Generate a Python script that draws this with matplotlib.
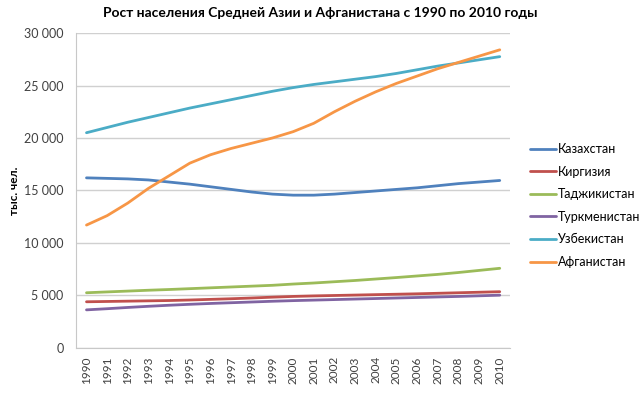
import matplotlib
matplotlib.use("Agg")
import matplotlib.pyplot as plt
from matplotlib.ticker import FuncFormatter

plt.rcParams['font.family'] = ['Lato', 'DejaVu Sans']

years = list(range(1990, 2011))
kazakhstan = [16200, 16150, 16100, 16000, 15800, 15600, 15350, 15100, 14850, 14650, 14550,
              14550, 14650, 14800, 14950, 15100, 15250, 15450, 15650, 15800, 15950]
kyrgyzstan = [4390, 4420, 4450, 4480, 4510, 4560, 4620, 4680, 4750, 4830, 4900,
              4950, 4990, 5030, 5070, 5110, 5150, 5200, 5250, 5300, 5350]
tajikistan = [5250, 5330, 5410, 5490, 5560, 5640, 5720, 5800, 5880, 5960, 6080,
              6180, 6300, 6420, 6560, 6700, 6850, 7000, 7180, 7380, 7580]
turkmenistan = [3620, 3730, 3850, 3960, 4060, 4150, 4230, 4300, 4370, 4440, 4500,
                4550, 4600, 4650, 4700, 4750, 4800, 4850, 4900, 4960, 5020]
uzbekistan = [20500, 21000, 21500, 21950, 22400, 22850, 23250, 23650, 24050, 24450, 24800,
              25100, 25350, 25600, 25850, 26150, 26500, 26850, 27150, 27450, 27750]
afghanistan = [11700, 12600, 13800, 15200, 16400, 17600, 18400, 19000, 19500, 20000, 20600,
               21400, 22500, 23500, 24400, 25200, 25900, 26600, 27200, 27800, 28400]

series = [
    ("Казахстан", kazakhstan, "#4F81BD"),
    ("Киргизия", kyrgyzstan, "#C0504D"),
    ("Таджикистан", tajikistan, "#9BBB59"),
    ("Туркменистан", turkmenistan, "#8064A2"),
    ("Узбекистан", uzbekistan, "#4BACC6"),
    ("Афганистан", afghanistan, "#F79646"),
]

fig = plt.figure(figsize=(6.4, 3.98), dpi=100)
ax = fig.add_axes([0.119, 0.126, 0.678, 0.791])

x = list(range(len(years)))
for name, vals, col in series:
    ax.plot(x, vals, color=col, lw=2, label=name, solid_joinstyle='round', solid_capstyle='round')

ax.set_xlim(-0.5, len(years) - 0.5)
ax.set_ylim(0, 30000)
ax.set_yticks(range(0, 30001, 5000))
ax.yaxis.set_major_formatter(FuncFormatter(lambda v, p: f"{int(v):,}".replace(",", " ")))
ax.set_xticks(x)
ax.set_xticklabels([str(y) for y in years], rotation=90, fontsize=8.5)
ax.tick_params(axis='y', labelsize=9, length=0, pad=9, colors='#404040')
ax.tick_params(axis='x', length=0, pad=6, colors='#404040')
ax.grid(axis='y', color='#D0D0D0', lw=1)
ax.set_axisbelow(True)
for s in ['top', 'right']:
    ax.spines[s].set_visible(False)
for s in ['left', 'bottom']:
    ax.spines[s].set_color('#C8C8C8')

ax.set_ylabel("тыс. чел.", fontsize=8.5, fontweight='bold')
ax.yaxis.set_label_coords(-0.129, 0.5)
fig.text(0.5, 0.968, "Рост населения Средней Азии и Афганистана с 1990 по 2010 годы",
         ha='center', va='center', fontsize=10, fontweight='bold')

ax.legend(loc='center left', bbox_to_anchor=(1.02, 0.452), frameon=False, fontsize=9,
          handlelength=2.1, handletextpad=0.15, labelspacing=0.85, borderaxespad=0.5)

fig.savefig("out.png", dpi=100)
